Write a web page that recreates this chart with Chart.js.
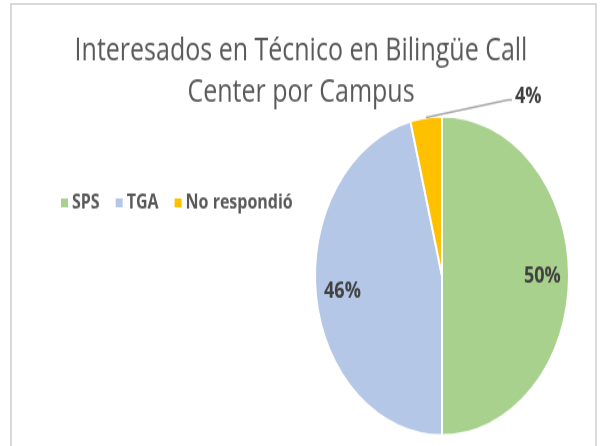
<!DOCTYPE html>
<html>
<head>
<meta charset="utf-8">
<title>Interesados en Técnico en Bilingüe Call Center por Campus</title>
<script src="https://cdn.jsdelivr.net/npm/chart.js@4.4.1/dist/chart.umd.min.js"></script>
<style>
  html, body { margin: 0; padding: 0; background: #fff; overflow: hidden; }
  #marco {
    position: absolute; left: 10px; top: 3px; width: 587px; height: 470px;
    border: 2px solid #d9d9d9; box-sizing: border-box;
  }
  /* el gráfico se dibuja más bajo y se estira en vertical */
  #grafico {
    position: absolute; left: 0; top: 0;
    transform: scaleY(1.2563); transform-origin: 0 0;
  }
</style>
</head>
<body>
<div id="marco"></div>
<canvas id="grafico" width="602" height="355"></canvas>
<script>
const categorias = ['SPS', 'TGA', 'No respondió'];
const valores = [50, 46, 4];
const colores = ['#A9D18E', '#B4C7E7', '#FFC000'];
const titulo = ['Interesados en Técnico en Bilingüe Call', 'Center por Campus'];

const fuente = '"Open Sans", "Noto Sans", sans-serif';

// Leyenda en una sola fila, a la izquierda del pastel
const leyendaIzquierda = {
    id: 'leyendaIzquierda',
    start(chart) {
        const caja = {
            position: 'left',
            weight: 0,
            fullSize: false,
            options: {},
            update(maxWidth, maxHeight) {
                this.width = 282;
                this.height = maxHeight;
            },
            isHorizontal() { return false; },
            draw() {
                const ctx = chart.ctx;
                ctx.save();
                ctx.font = 'bold 16px ' + fuente;
                ctx.textBaseline = 'middle';
                ctx.textAlign = 'left';
                let x = 61;
                const y = 161.5;
                categorias.forEach((nombre, i) => {
                    ctx.fillStyle = colores[i];
                    ctx.fillRect(x, y - 3.5, 7, 7);
                    x += 11;
                    ctx.fillStyle = '#595959';
                    ctx.fillText(nombre, x, y);
                    x += ctx.measureText(nombre).width + 16;
                });
                ctx.restore();
            }
        };
        Chart.layouts.addBox(chart, caja);
    }
};

// Etiquetas de porcentaje; las porciones pequeñas van fuera con línea guía
const etiquetas = {
    id: 'etiquetas',
    afterDatasetsDraw(chart) {
        const ctx = chart.ctx;
        const meta = chart.getDatasetMeta(0);
        const total = valores.reduce((a, b) => a + b, 0);
        ctx.save();
        ctx.font = 'bold 18px ' + fuente;
        ctx.fillStyle = '#404040';
        meta.data.forEach((arco, i) => {
            const { x, y, startAngle, endAngle, outerRadius } =
                arco.getProps(['x', 'y', 'startAngle', 'endAngle', 'outerRadius'], true);
            const medio = (startAngle + endAngle) / 2;
            const texto = Math.round(valores[i] / total * 100) + '%';
            if (valores[i] / total < 0.1) {
                const bx = x + Math.cos(medio) * outerRadius;
                const by = y + Math.sin(medio) * outerRadius;
                const codoX = x + 66;
                const codoY = y - 140;
                ctx.strokeStyle = '#a6a6a6';
                ctx.lineWidth = 1.3;
                ctx.beginPath();
                ctx.moveTo(bx, by);
                ctx.lineTo(codoX, codoY);
                ctx.lineTo(codoX + 4, codoY);
                ctx.stroke();
                ctx.textAlign = 'left';
                ctx.textBaseline = 'alphabetic';
                ctx.fillText(texto, codoX + 7, codoY + 2);
            } else {
                const r = outerRadius * 0.79;
                ctx.textAlign = 'center';
                ctx.textBaseline = 'middle';
                ctx.fillText(texto, x + Math.cos(medio) * r, y + Math.sin(medio) * r);
            }
        });
        ctx.restore();
    }
};

new Chart(document.getElementById('grafico'), {
    type: 'pie',
    data: {
        labels: categorias,
        datasets: [{
            data: valores,
            backgroundColor: colores,
            borderColor: '#ffffff',
            borderWidth: 2
        }]
    },
    options: {
        responsive: false,
        animation: false,
        devicePixelRatio: 1,
        events: [],
        layout: {
            padding: { left: 0, right: 0, top: 0, bottom: 7.5 }
        },
        plugins: {
            legend: { display: false },
            tooltip: { enabled: false },
            title: {
                display: true,
                text: titulo,
                color: '#595959',
                font: { family: fuente, size: 25, weight: 'normal', lineHeight: 1.32 },
                padding: { top: 24, bottom: 1.5 }
            }
        }
    },
    plugins: [leyendaIzquierda, etiquetas]
});
</script>
</body>
</html>
